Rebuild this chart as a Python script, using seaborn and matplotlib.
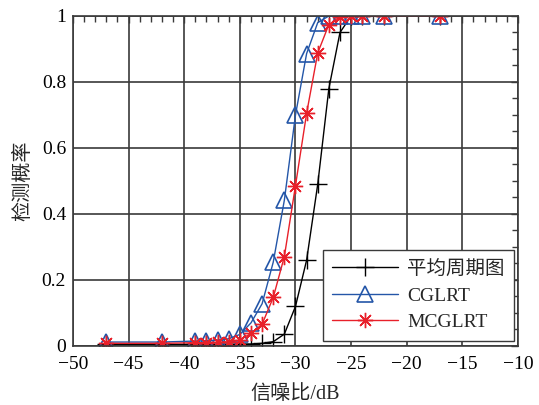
import numpy as np
import pandas as pd
import matplotlib
matplotlib.use("Agg")
import matplotlib.pyplot as plt
from matplotlib.ticker import MultipleLocator
import seaborn as sns

snr = [-47, -42, -39, -38, -37, -36, -35, -34, -33, -32, -31, -30, -29, -28,
       -27, -26, -25, -24, -22, -17]
pd_periodogram = [0.005, 0.005, 0.005, 0.005, 0.005, 0.005, 0.005, 0.006, 0.008,
                  0.013, 0.036, 0.12, 0.26, 0.49, 0.78, 0.95, 1.0, 1.0, 1.0, 1.0]
pd_cglrt = [0.012, 0.012, 0.015, 0.016, 0.018, 0.022, 0.035, 0.07, 0.128, 0.254,
            0.442, 0.70, 0.886, 0.98, 1.0, 1.0, 1.0, 1.0, 1.0, 1.0]
pd_mcglrt = [0.008, 0.008, 0.01, 0.01, 0.011, 0.013, 0.018, 0.038, 0.066, 0.147,
             0.271, 0.486, 0.705, 0.888, 0.974, 0.998, 1.0, 1.0, 1.0, 1.0]
labels = ["平均周期图", "CGLRT", "MCGLRT"]

sns.set_style("white")
plt.rcParams['font.family'] = ['Liberation Serif', 'Noto Sans CJK SC']
plt.rcParams['axes.unicode_minus'] = True

fig = plt.figure(figsize=(5.39, 4.05), dpi=100)
ax = fig.add_axes([0.1354, 0.1457, 0.961 - 0.1354, 0.9605 - 0.1457])

black = "#000000"
blue = "#2456a8"
red = "#e8202a"

sns.lineplot(x=snr, y=pd_periodogram, ax=ax, color=black, lw=1.0,
             marker='+', markersize=13, markeredgecolor=black,
             markeredgewidth=1.0, label=labels[0], legend=False)
sns.lineplot(x=snr, y=pd_cglrt, ax=ax, color=blue, lw=1.0,
             marker='^', markersize=11, markerfacecolor='none',
             markeredgecolor=blue, markeredgewidth=1.2, label=labels[1],
             legend=False)
sns.lineplot(x=snr, y=pd_mcglrt, ax=ax, color=red, lw=1.0,
             marker=(8, 2, 0), markersize=11, markeredgecolor=red,
             markeredgewidth=1.0, label=labels[2], legend=False)

ax.set_xlim(-50, -10)
ax.set_ylim(0, 1)
ax.xaxis.set_major_locator(MultipleLocator(5))
ax.xaxis.set_minor_locator(MultipleLocator(1))
ax.yaxis.set_major_locator(MultipleLocator(0.2))
ax.yaxis.set_minor_locator(MultipleLocator(0.05))
ax.set_yticks([0, 0.2, 0.4, 0.6, 0.8, 1.0])
ax.set_yticklabels(["0", "0.2", "0.4", "0.6", "0.8", "1"])

ax.grid(True, which='major', color='#3a3a3a', lw=1.2)
ax.set_axisbelow(True)
for s in ax.spines.values():
    s.set_color('#3a3a3a')
    s.set_linewidth(1.2)
ax.tick_params(which='both', direction='in', top=True, right=True,
               colors='#3a3a3a', labelcolor='black', labelsize=14)
ax.tick_params(which='major', length=5, width=1.0)
ax.tick_params(which='minor', length=4, width=1.0)
ax.tick_params(axis='x', which='major', pad=7.5)
ax.tick_params(axis='y', which='major', pad=5)

ax.set_xlabel("信噪比/dB", fontsize=14.5, labelpad=8)
ax.set_ylabel("检测概率", fontsize=14.5, labelpad=6)

leg = ax.legend(loc='lower right', bbox_to_anchor=(0.992, 0.016),
                borderaxespad=0, fontsize=14, fancybox=False, frameon=True,
                edgecolor='#3a3a3a', framealpha=1, handlelength=3.4,
                handletextpad=0.45, labelspacing=0.45, borderpad=0.5)
leg.get_frame().set_linewidth(1.0)

fig.savefig("out.png", dpi=100)
